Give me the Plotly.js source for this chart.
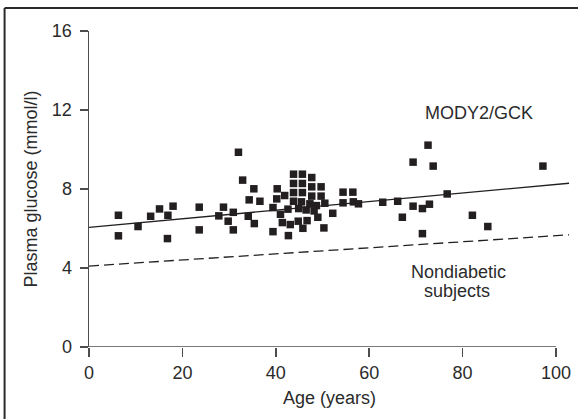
<!DOCTYPE html>
<html>
<head>
<meta charset="utf-8">
<script src="https://cdn.plot.ly/plotly-3.0.1.min.js"></script>
<style>
  html, body { margin: 0; padding: 0; background: #fff; }
  #chart { width: 578px; height: 419px; }
</style>
</head>
<body>
<div id="chart"></div>
<script>
// MODY2/GCK subjects: age (years) and fasting plasma glucose (mmol/l)
const age = [
  6.3, 6.3, 10.5, 13.2, 15.1, 16.9, 16.8, 18.0, 23.6, 23.6,
  27.8, 28.8, 29.8, 30.9, 30.9, 32.0, 32.9, 34.3, 34.1, 35.3,
  35.4, 36.6, 39.4, 39.4, 40.3, 40.2, 41.0, 41.4, 41.9, 42.6,
  42.7, 43.1, 43.8, 43.8, 43.8, 43.8, 44.8, 44.9, 45.7, 45.7,
  45.7, 45.5, 45.8, 46.7, 46.5, 47.3, 47.7, 47.7, 47.7, 48.2,
  48.7, 49.0, 49.7, 49.7, 50.3, 50.5, 52.2, 54.4, 54.4, 56.5,
  56.6, 57.7, 62.9, 66.1, 67.1, 69.4, 69.4, 71.4, 71.4, 72.6,
  72.9, 73.7, 76.7, 82.1, 85.4, 97.2
];
const glucose = [
  6.67, 5.63, 6.10, 6.62, 6.99, 6.67, 5.49, 7.13, 7.08, 5.93,
  6.64, 7.08, 6.37, 6.82, 5.93, 9.86, 8.45, 7.45, 6.62, 8.01,
  6.25, 7.38, 7.06, 5.84, 8.01, 7.50, 6.72, 6.30, 7.67, 6.98,
  5.64, 6.20, 8.75, 8.28, 7.82, 7.38, 6.37, 7.01, 8.75, 8.28,
  7.82, 7.35, 6.01, 6.40, 6.94, 7.25, 8.58, 8.11, 7.64, 6.89,
  7.16, 6.57, 8.11, 7.64, 6.03, 7.28, 6.77, 7.84, 7.30, 7.84,
  7.35, 7.25, 7.33, 7.38, 6.57, 9.36, 7.13, 7.01, 5.74, 10.22,
  7.23, 9.16, 7.75, 6.67, 6.10, 9.16
];

// Regression lines (endpoints of the fitted relationships)
const fitAge = [0, 102.8];
const fitMody = [6.06, 8.29];
const fitNondiabetic = [4.1, 5.68];

// Axis ticks
const xTicks = [0, 20, 40, 60, 80, 100];
const yTicks = [0, 4, 8, 12, 16];

const ink = '#231f20';
const axisGray = '#4d4d4d';
const textColor = '#2b2b2b';
const fontFamily = '"Liberation Sans", Arial, Helvetica, sans-serif';

const traces = [
  {
    x: fitAge, y: fitMody, mode: 'lines', type: 'scatter',
    line: { color: ink, width: 1.3 }, hoverinfo: 'skip', showlegend: false
  },
  {
    x: fitAge, y: fitNondiabetic, mode: 'lines', type: 'scatter',
    line: { color: ink, width: 1.3, dash: '10px,5px' }, hoverinfo: 'skip', showlegend: false
  },
  {
    x: age, y: glucose, mode: 'markers', type: 'scatter',
    marker: { symbol: 'square', size: 7.5, color: ink, line: { width: 0 } },
    showlegend: false
  }
];

const layout = {
  width: 578,
  height: 419,
  margin: { l: 89.3, r: 8.3, t: 31, b: 72 },
  paper_bgcolor: '#fff',
  plot_bgcolor: '#fff',
  font: { family: fontFamily, size: 18, color: textColor },
  showlegend: false,
  xaxis: {
    range: [0, 103],
    tickvals: xTicks,
    ticktext: xTicks.map(String),
    ticks: 'outside',
    ticklen: 9,
    tickwidth: 1.5,
    tickcolor: axisGray,
    ticklabelstandoff: 0,
    showline: false,
    showgrid: false,
    zeroline: false,
    tickfont: { family: fontFamily, size: 18, color: textColor },
    title: { text: 'Age (years)', standoff: 9, font: { family: fontFamily, size: 18, color: textColor } }
  },
  yaxis: {
    range: [0, 16],
    tickvals: yTicks,
    ticktext: yTicks.map(String),
    ticks: 'outside',
    ticklen: 8,
    tickwidth: 1.5,
    tickcolor: axisGray,
    ticklabelstandoff: 4,
    showline: true,
    linecolor: axisGray,
    linewidth: 1.5,
    showgrid: false,
    zeroline: false,
    tickfont: { family: fontFamily, size: 18, color: textColor },
    title: { text: 'Plasma glucose (mmol/l)', standoff: 9, font: { family: fontFamily, size: 18, color: textColor } }
  },
  shapes: [
    // x axis baseline, drawn only across 0–100
    { type: 'line', xref: 'x', yref: 'y', x0: 0, x1: 100, y0: 0, y1: 0,
      line: { color: axisGray, width: 1.5 } },
    // figure box: left and top edges (right and bottom run off the page)
    { type: 'line', xref: 'paper', yref: 'paper', x0: -0.1755, x1: -0.1755, y0: -0.3, y1: 1.0728,
      line: { color: '#2a2a2a', width: 2 } },
    { type: 'line', xref: 'paper', yref: 'paper', x0: -0.1755, x1: 1.1, y0: 1.0728, y1: 1.0728,
      line: { color: '#2a2a2a', width: 2 } }
  ],
  annotations: [
    { x: 83.5, y: 11.83, xref: 'x', yref: 'y', text: 'MODY2/GCK', showarrow: false,
      xanchor: 'center', yanchor: 'middle', font: { family: fontFamily, size: 18, color: textColor } },
    { x: 79.2, y: 3.82, xref: 'x', yref: 'y', text: 'Nondiabetic', showarrow: false,
      xanchor: 'center', yanchor: 'middle', font: { family: fontFamily, size: 18, color: textColor } },
    { x: 78.7, y: 2.84, xref: 'x', yref: 'y', text: 'subjects', showarrow: false,
      xanchor: 'center', yanchor: 'middle', font: { family: fontFamily, size: 18, color: textColor } }
  ]
};

Plotly.newPlot('chart', traces, layout, { displayModeBar: false, staticPlot: true });
</script>
</body>
</html>
